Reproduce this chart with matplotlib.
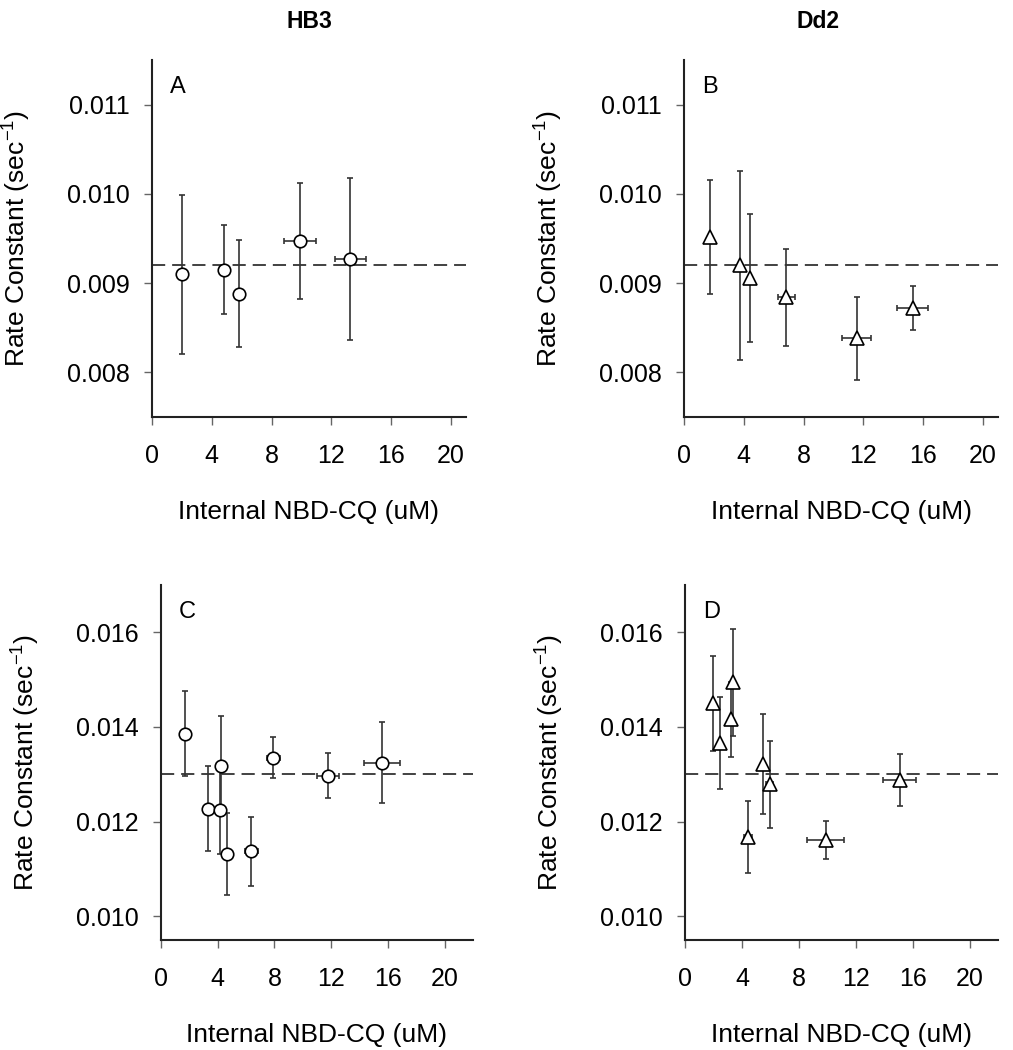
import matplotlib
matplotlib.use('Agg')
from matplotlib import rcParams
rcParams['font.family'] = ['Liberation Sans', 'DejaVu Sans']
rcParams['lines.scale_dashes'] = False
import matplotlib.pyplot as plt

# panel A - HB3, low range
a_x = [2.03, 4.83, 5.79, 9.92, 13.27]
a_y = [0.00910, 0.00915, 0.00888, 0.00947, 0.00927]
a_yerr = [0.00089, 0.00050, 0.00060, 0.00065, 0.00091]
a_xerr = [0, 0, 0, 1.06, 1.06]

# panel B - Dd2, low range
b_x = [1.74, 3.75, 4.42, 6.85, 11.54, 15.29]
b_y = [0.00952, 0.00920, 0.00906, 0.00884, 0.00838, 0.00872]
b_yerr = [0.00064, 0.00106, 0.00072, 0.00054, 0.00046, 0.00025]
b_xerr = [0, 0, 0, 0.59, 0.95, 1.04]

# panel C - HB3, high range
c_x = [1.67, 3.31, 4.20, 4.15, 4.65, 6.38, 7.91, 11.76, 15.61]
c_y = [0.01386, 0.01227, 0.01317, 0.01225, 0.01132, 0.01137, 0.01335, 0.01297, 0.01325]
c_yerr = [0.00090, 0.00090, 0.00106, 0.00093, 0.00087, 0.00072, 0.00043, 0.00048, 0.00086]
c_xerr = [0, 0, 0, 0, 0, 0.49, 0.47, 0.79, 1.27]

# panel D - Dd2, high range
d_x = [1.97, 2.44, 3.37, 3.23, 5.48, 5.95, 4.43, 9.88, 15.10]
d_y = [0.01450, 0.01366, 0.01495, 0.01416, 0.01322, 0.01279, 0.01168, 0.01162, 0.01288]
d_yerr = [0.00100, 0.00098, 0.00113, 0.00079, 0.00105, 0.00092, 0.00076, 0.00040, 0.00055]
d_xerr = [0, 0, 0, 0, 0, 0.25, 0.25, 1.31, 1.17]

ref_low = 0.0092
ref_high = 0.0130
ticks_low = [0.008, 0.009, 0.010, 0.011]
ticks_high = [0.010, 0.012, 0.014, 0.016]
xticks = [0, 4, 8, 12, 16, 20]

W, H = 1013, 1050


def panel(rect, x, y, xerr, yerr, marker, ref, yticks, ylim, xmax, letter):
	ax = plt.axes(rect)
	ax.axhline(ref, color='#333333', lw=1.3, dashes=(9.5, 5), zorder=1)
	ax.errorbar(x, y, yerr=yerr, xerr=xerr, fmt='none', ecolor='#333333',
		elinewidth=1.2, capsize=2.3, capthick=1.2, zorder=2)
	ax.plot(x, y, linestyle='none', marker=marker, markersize=9 if marker == 'o' else 10,
		markerfacecolor='white', markeredgecolor='black', markeredgewidth=1.2, zorder=3)
	ax.set_xlim(0, xmax)
	ax.set_ylim(*ylim)
	ax.set_xticks(xticks)
	ax.set_yticks(yticks)
	ax.set_yticklabels(['%.3f' % t for t in yticks])
	for s in ['top', 'right']:
		ax.spines[s].set_visible(False)
	for s in ['left', 'bottom']:
		ax.spines[s].set_color('#222222')
		ax.spines[s].set_linewidth(1.5)
	ax.tick_params(axis='x', direction='out', length=5.5, width=1, color='#666666',
		labelsize=18, pad=14)
	ax.tick_params(axis='y', direction='out', length=5.5, width=1, color='#666666',
		labelsize=18, pad=10.5)
	ax.set_xlabel('Internal NBD-CQ (uM)', fontsize=19)
	ax.set_ylabel(r'Rate Constant (sec$^{\mathregular{-1}}$)', fontsize=19)
	ax.text(0.057, 0.955, letter, transform=ax.transAxes, fontsize=17,
		va='top', ha='left')
	return ax


def px_rect(left, right, top, bottom):
	return [left / W, 1 - bottom / H, (right - left) / W, (bottom - top) / H]


def main():
	fig = plt.figure(figsize=(W / 100, H / 100), dpi=100)
	fig.patch.set_facecolor('white')

	ax_a = panel(px_rect(152, 466, 60, 417), a_x, a_y, a_xerr, a_yerr, 'o',
		ref_low, ticks_low, (0.0075, 0.0115), 21, 'A')
	ax_b = panel(px_rect(684, 998, 60, 417), b_x, b_y, b_xerr, b_yerr, '^',
		ref_low, ticks_low, (0.0075, 0.0115), 21, 'B')
	ax_c = panel(px_rect(161, 473, 585, 940), c_x, c_y, c_xerr, c_yerr, 'o',
		ref_high, ticks_high, (0.0095, 0.0170), 22, 'C')
	ax_d = panel(px_rect(685, 998, 585, 940), d_x, d_y, d_xerr, d_yerr, '^',
		ref_high, ticks_high, (0.0095, 0.0170), 22, 'D')

	for ax in [ax_a, ax_b, ax_c, ax_d]:
		w = ax.get_position().width * W
		h = ax.get_position().height * H
		ax.yaxis.set_label_coords(-120 / w, 0.5)
		ax.xaxis.set_label_coords(0.5, -83 / h)

	fig.text(309 / W, 1 - 21 / H, 'HB3', fontsize=16.5, fontweight='bold',
		ha='center', va='center')
	fig.text(818 / W, 1 - 21 / H, 'Dd2', fontsize=16.5, fontweight='bold',
		ha='center', va='center')

	plt.savefig('out.png', dpi=100)


if __name__ == "__main__":
	main()
